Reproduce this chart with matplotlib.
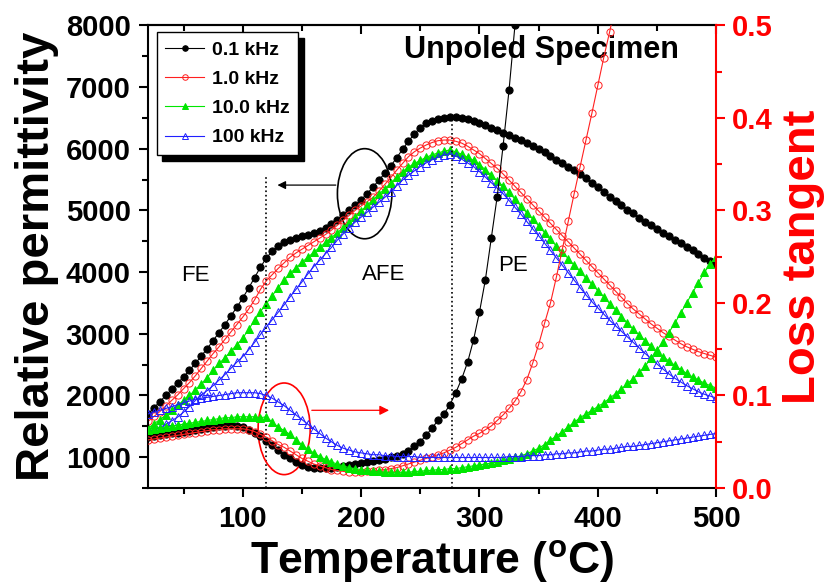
import numpy as np
import matplotlib
matplotlib.use('Agg')
import matplotlib.pyplot as plt
from matplotlib.patches import Ellipse
from matplotlib.ticker import MultipleLocator

plt.rcParams['font.family'] = 'Liberation Sans'
plt.rcParams['mathtext.fontset'] = 'custom'
plt.rcParams['mathtext.rm'] = 'Liberation Sans'
plt.rcParams['mathtext.bf'] = 'Liberation Sans:bold'

# measurement temperatures, deg C (5 degree steps)
temp = np.arange(20, 505, 5)

labels = ['0.1 kHz', '1.0 kHz', '10.0 kHz', '100 kHz']
colors = ['black', '#ff2020', '#00e600', '#2020ff']
markers = ['o', 'o', '^', '^']
filled = [True, False, True, False]

# relative permittivity
perm_01k = [1700, 1800, 1900, 2000, 2100, 2200, 2300, 2410, 2520, 2640,
            2760, 2890, 3020, 3150, 3290, 3430, 3580, 3740, 3910, 4080,
            4230, 4340, 4420, 4480, 4520, 4550, 4580, 4605, 4630, 4670,
            4720, 4780, 4850, 4930, 5000, 5080, 5170, 5270, 5375, 5490,
            5600, 5720, 5850, 5990, 6120, 6240, 6340, 6410, 6450, 6480,
            6500, 6510, 6510, 6500, 6480, 6450, 6410, 6380, 6340, 6300,
            6260, 6220, 6180, 6140, 6090, 6040, 5990, 5940, 5880, 5820,
            5770, 5710, 5650, 5590, 5520, 5450, 5380, 5300, 5220, 5150,
            5080, 5010, 4950, 4880, 4810, 4760, 4700, 4640, 4580, 4520,
            4470, 4410, 4350, 4290, 4230, 4180, 4130]
perm_1k = [1580, 1660, 1740, 1830, 1920, 2010, 2110, 2210, 2320, 2440,
           2560, 2680, 2790, 2910, 3030, 3150, 3270, 3400, 3550, 3720,
           3860, 3960, 4060, 4150, 4240, 4310, 4370, 4430, 4490, 4550,
           4610, 4680, 4760, 4840, 4920, 5000, 5070, 5140, 5210, 5310,
           5420, 5530, 5650, 5760, 5870, 5950, 6010, 6060, 6100, 6130,
           6140, 6140, 6120, 6090, 6040, 5980, 5920, 5840, 5760, 5680,
           5590, 5490, 5390, 5290, 5190, 5090, 4990, 4890, 4790, 4690,
           4590, 4490, 4390, 4290, 4190, 4090, 3990, 3890, 3790, 3690,
           3590, 3490, 3400, 3320, 3240, 3160, 3090, 3020, 2960, 2900,
           2840, 2790, 2750, 2710, 2680, 2650, 2620]
perm_10k = [1470, 1540, 1610, 1680, 1760, 1840, 1920, 2000, 2090, 2190,
            2290, 2410, 2520, 2610, 2720, 2820, 2930, 3070, 3220, 3360,
            3490, 3620, 3750, 3870, 3980, 4070, 4160, 4240, 4320, 4400,
            4480, 4560, 4640, 4720, 4810, 4900, 4990, 5080, 5170, 5260,
            5350, 5440, 5540, 5620, 5700, 5760, 5810, 5860, 5900, 5930,
            5960, 5980, 5950, 5910, 5860, 5810, 5740, 5660, 5570, 5480,
            5390, 5290, 5180, 5070, 4960, 4860, 4750, 4640, 4530, 4420,
            4320, 4220, 4110, 4010, 3900, 3800, 3700, 3600, 3490, 3390,
            3280, 3170, 3070, 2980, 2890, 2800, 2710, 2630, 2560, 2490,
            2420, 2360, 2300, 2250, 2200, 2160, 2120]
perm_100k = [1400, 1440, 1480, 1530, 1590, 1650, 1730, 1820, 1920, 2010,
             2080, 2160, 2250, 2340, 2440, 2540, 2630, 2740, 2860, 2990,
             3110, 3230, 3350, 3470, 3600, 3720, 3840, 3970, 4090, 4190,
             4300, 4400, 4520, 4620, 4720, 4810, 4890, 4970, 5050, 5130,
             5210, 5300, 5400, 5490, 5570, 5640, 5710, 5770, 5820, 5860,
             5900, 5920, 5880, 5830, 5770, 5710, 5630, 5540, 5450, 5360,
             5270, 5160, 5050, 4940, 4820, 4700, 4590, 4470, 4350, 4230,
             4110, 3990, 3870, 3750, 3630, 3520, 3420, 3320, 3220, 3130,
             3040, 2950, 2860, 2770, 2680, 2600, 2510, 2430, 2350, 2280,
             2220, 2160, 2110, 2060, 2020, 1990, 1960]

# loss tangent (low frequencies run off the top of the scale)
loss_01k = [0.055, 0.056, 0.057, 0.058, 0.059, 0.060, 0.061, 0.062, 0.063, 0.064,
            0.065, 0.066, 0.067, 0.067, 0.068, 0.067, 0.066, 0.063, 0.060, 0.056,
            0.051, 0.046, 0.041, 0.036, 0.032, 0.028, 0.025, 0.023, 0.022, 0.022,
            0.022, 0.022, 0.023, 0.024, 0.025, 0.026, 0.027, 0.028, 0.029, 0.030,
            0.031, 0.033, 0.035, 0.037, 0.040, 0.045, 0.050, 0.057, 0.065, 0.073,
            0.080, 0.090, 0.103, 0.118, 0.136, 0.160, 0.190, 0.225, 0.270, 0.315,
            0.370, 0.430, 0.500, 0.570]
loss_1k = [0.052, 0.053, 0.054, 0.055, 0.056, 0.057, 0.058, 0.059, 0.060, 0.061,
           0.062, 0.063, 0.063, 0.064, 0.064, 0.064, 0.064, 0.063, 0.061, 0.058,
           0.055, 0.051, 0.047, 0.044, 0.040, 0.036, 0.032, 0.029, 0.026, 0.024,
           0.022, 0.020, 0.019, 0.018, 0.017, 0.017, 0.017, 0.018, 0.018, 0.019,
           0.020, 0.021, 0.022, 0.024, 0.026, 0.028, 0.030, 0.032, 0.034, 0.036,
           0.038, 0.041, 0.044, 0.048, 0.052, 0.056, 0.059, 0.063, 0.067, 0.073,
           0.079, 0.086, 0.094, 0.104, 0.117, 0.135, 0.155, 0.178, 0.200, 0.228,
           0.258, 0.288, 0.318, 0.347, 0.376, 0.405, 0.435, 0.465, 0.493, 0.522]
loss_10k = [0.063, 0.064, 0.065, 0.066, 0.067, 0.068, 0.069, 0.070, 0.071, 0.072,
            0.073, 0.074, 0.075, 0.076, 0.076, 0.077, 0.077, 0.077, 0.077, 0.076,
            0.077, 0.071, 0.066, 0.062, 0.058, 0.052, 0.047, 0.042, 0.038, 0.034,
            0.031, 0.028, 0.026, 0.024, 0.022, 0.021, 0.020, 0.019, 0.018, 0.018,
            0.017, 0.017, 0.017, 0.017, 0.017, 0.018, 0.018, 0.019, 0.019, 0.020,
            0.020, 0.021, 0.021, 0.022, 0.023, 0.024, 0.025, 0.026, 0.027, 0.028,
            0.030, 0.031, 0.033, 0.035, 0.037, 0.040, 0.043, 0.047, 0.052, 0.056,
            0.061, 0.066, 0.071, 0.076, 0.080, 0.084, 0.088, 0.092, 0.097, 0.102,
            0.107, 0.113, 0.118, 0.125, 0.132, 0.140, 0.149, 0.158, 0.168, 0.178,
            0.189, 0.200, 0.211, 0.222, 0.233, 0.242, 0.250]
loss_100k = [0.080, 0.082, 0.084, 0.086, 0.088, 0.090, 0.092, 0.094, 0.096, 0.097,
             0.098, 0.099, 0.100, 0.101, 0.102, 0.103, 0.103, 0.103, 0.103, 0.102,
             0.100, 0.097, 0.093, 0.089, 0.084, 0.079, 0.074, 0.069, 0.064, 0.059,
             0.054, 0.050, 0.046, 0.043, 0.041, 0.039, 0.038, 0.037, 0.036, 0.036,
             0.035, 0.035, 0.034, 0.034, 0.034, 0.034, 0.033, 0.033, 0.033, 0.033,
             0.033, 0.033, 0.033, 0.033, 0.033, 0.033, 0.033, 0.033, 0.033, 0.033,
             0.033, 0.034, 0.034, 0.034, 0.035, 0.035, 0.035, 0.036, 0.036, 0.037,
             0.037, 0.038, 0.038, 0.039, 0.040, 0.040, 0.041, 0.042, 0.042, 0.043,
             0.044, 0.045, 0.045, 0.046, 0.047, 0.048, 0.049, 0.050, 0.051, 0.052,
             0.053, 0.054, 0.055, 0.056, 0.057, 0.058, 0.059]

# phase boundaries (FE/AFE and AFE/PE), deg C
T_FE_AFE = 120
T_AFE_PE = 277

perms = [perm_01k, perm_1k, perm_10k, perm_100k]
losses = [loss_01k, loss_1k, loss_10k, loss_100k]


def style(i, ms=5.2):
    return dict(color=colors[i], marker=markers[i], ms=ms, lw=0.8,
                mfc=colors[i] if filled[i] else 'none', mec=colors[i], mew=0.7)


fig = plt.figure(figsize=(8.27, 5.88), dpi=100)
ax = fig.add_axes([0.179, 0.170, 0.687, 0.787])
ax2 = ax.twinx()

for i in range(4):
    ax.plot(temp[:len(perms[i])], perms[i], **style(i))
    ax2.plot(temp[:len(losses[i])], losses[i], **style(i))

ax.set_xlim(20, 500)
ax.set_ylim(500, 8000)
ax2.set_ylim(0.0, 0.5)

# dotted phase boundaries
ax.plot([T_FE_AFE, T_FE_AFE], [500, 5570], ':', color='black', lw=1.2)
ax.plot([T_AFE_PE, T_AFE_PE], [500, 6500], ':', color='black', lw=1.2)

# ellipses + arrows pointing to the matching axis
ax.add_patch(Ellipse((203, 5270), 46, 1460, fill=False, ec='black', lw=1.2))
ax.annotate('', xy=(127, 5410), xytext=(181, 5410),
            arrowprops=dict(arrowstyle='-|>', color='black', lw=0.9, mutation_scale=12))
ax2.add_patch(Ellipse((135, 0.064), 44, 0.099, fill=False, ec='red', lw=1.2))
ax2.annotate('', xy=(226, 0.084), xytext=(156, 0.084),
             arrowprops=dict(arrowstyle='-|>', color='red', lw=0.9, mutation_scale=14))

ax.text(60, 3950, 'FE', fontsize=16, ha='center', va='center')
ax.text(219, 3960, 'AFE', fontsize=16, ha='center', va='center')
ax.text(328, 4110, 'PE', fontsize=16, ha='center', va='center')
ax.text(0.692, 0.946, 'Unpoled Specimen', transform=ax.transAxes, fontsize=22,
        fontweight='bold', ha='center', va='center')

# axes styling
for sp in ['left', 'bottom', 'top']:
    ax.spines[sp].set_linewidth(1.5)
ax.spines['right'].set_visible(False)
for sp in ['left', 'bottom', 'top']:
    ax2.spines[sp].set_visible(False)
ax2.spines['right'].set_color('red')
ax2.spines['right'].set_linewidth(1.5)

ax.xaxis.set_major_locator(MultipleLocator(100))
ax.xaxis.set_minor_locator(MultipleLocator(50))
ax.yaxis.set_major_locator(MultipleLocator(1000))
ax.yaxis.set_minor_locator(MultipleLocator(500))
ax2.yaxis.set_major_locator(MultipleLocator(0.1))
ax2.yaxis.set_minor_locator(MultipleLocator(0.05))
ax2.yaxis.set_major_formatter(plt.FormatStrFormatter('%.1f'))

ax.tick_params(which='major', direction='out', length=6.5, width=1.5, labelsize=21, pad=6)
ax.tick_params(which='minor', direction='out', length=4, width=1.5)
ax2.tick_params(which='major', direction='out', length=6.5, width=1.5, labelsize=21,
                pad=5, colors='red')
ax2.tick_params(which='minor', direction='out', length=4, width=1.5, colors='red')
for lab in ax.get_xticklabels() + ax.get_yticklabels() + ax2.get_yticklabels():
    lab.set_fontweight('bold')

top = ax.secondary_xaxis('top')
top.xaxis.set_major_locator(MultipleLocator(100))
top.xaxis.set_minor_locator(MultipleLocator(50))
top.tick_params(which='major', direction='in', length=6.5, width=1.5, labeltop=False)
top.tick_params(which='minor', direction='in', length=4, width=1.5)
top.spines['top'].set_linewidth(1.5)

ax.set_xlabel(r'Temperature ($\mathbf{^{o}}$C)', fontsize=32, fontweight='bold', labelpad=3)
ax.set_ylabel('Relative permittivity', fontsize=34, fontweight='bold', labelpad=5)
ax2.set_ylabel('Loss tangent', fontsize=34, fontweight='bold', color='red', labelpad=6)

# legend keys: thin line with a single small marker
handles = [plt.Line2D([], [], **style(i, ms=4)) for i in range(4)]
ax2.legend(handles, labels, loc='upper left', bbox_to_anchor=(0.015, 0.985),
           borderaxespad=0, prop={'weight': 'bold', 'size': 14}, fancybox=False,
           edgecolor='black', framealpha=1,
           shadow={'color': 'black', 'alpha': 1, 'ox': 4, 'oy': -4},
           handlelength=2.0, labelspacing=0.6, handletextpad=0.4, borderpad=0.45)

fig.savefig('out.png', dpi=100)
